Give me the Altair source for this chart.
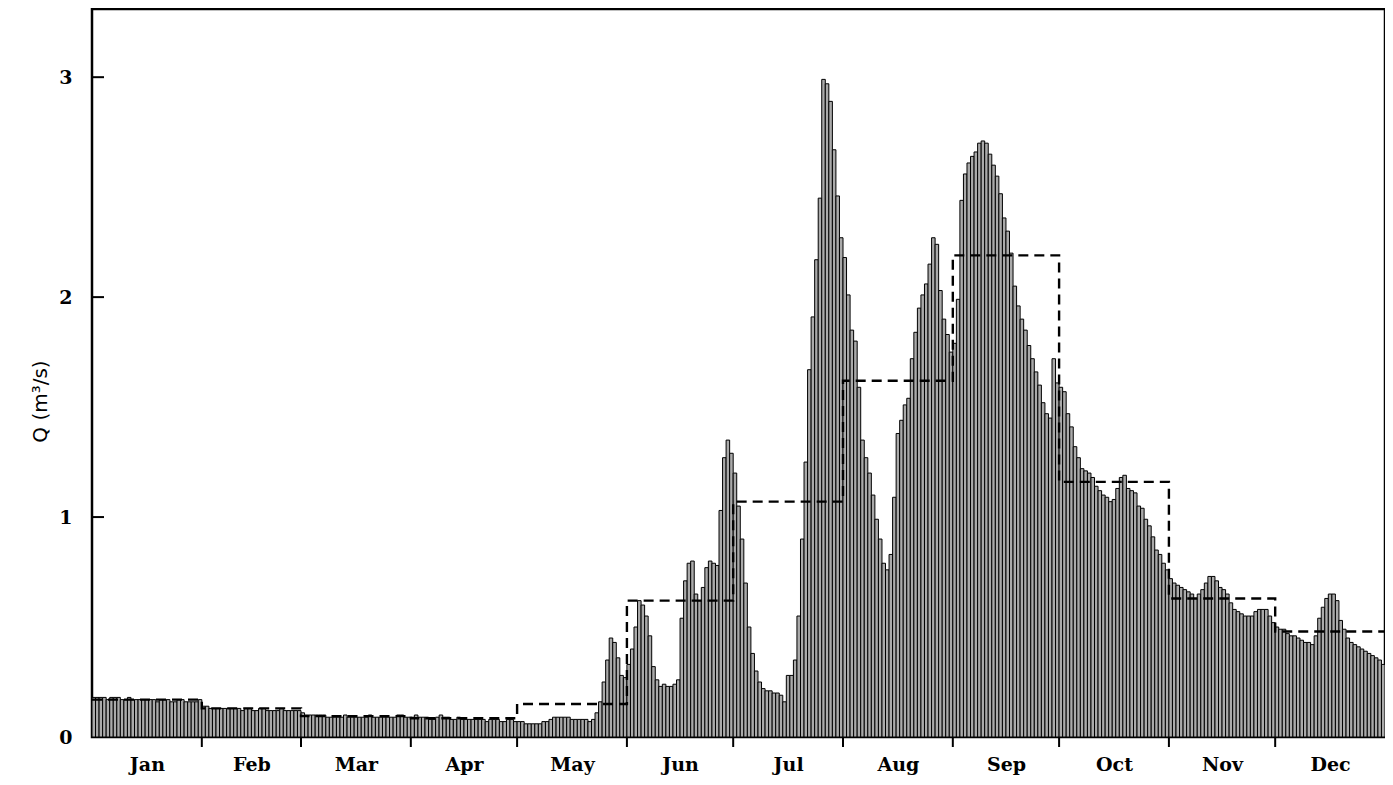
import altair as alt
import pandas as pd

months = ["Jan", "Feb", "Mar", "Apr", "May", "Jun", "Jul", "Aug", "Sep", "Oct", "Nov", "Dec"]
month_days = [31, 28, 31, 30, 31, 30, 31, 31, 30, 31, 30, 31]
monthly_mean = [0.17, 0.13, 0.095, 0.085, 0.15, 0.62, 1.07, 1.62, 2.19, 1.16, 0.63, 0.48]
y_ticks = [0, 1, 2, 3]

jan = [0.18, 0.18, 0.18, 0.18, 0.17, 0.18, 0.18, 0.18, 0.17, 0.17,
       0.18, 0.17, 0.17, 0.17, 0.17, 0.17, 0.17, 0.17, 0.16, 0.17,
       0.17, 0.17, 0.16, 0.16, 0.17, 0.17, 0.16, 0.16, 0.16, 0.16, 0.17]
feb = [0.14, 0.14, 0.13, 0.13, 0.13, 0.13, 0.13, 0.13, 0.13, 0.13,
       0.13, 0.12, 0.13, 0.13, 0.12, 0.12, 0.13, 0.13, 0.12, 0.12,
       0.12, 0.12, 0.13, 0.12, 0.12, 0.12, 0.12, 0.12]
mar = [0.11, 0.10, 0.10, 0.10, 0.10, 0.10, 0.10, 0.09, 0.09, 0.09,
       0.09, 0.09, 0.10, 0.09, 0.09, 0.09, 0.09, 0.09, 0.09, 0.10,
       0.09, 0.09, 0.09, 0.09, 0.09, 0.09, 0.09, 0.10, 0.10, 0.09, 0.09]
apr = [0.09, 0.10, 0.09, 0.09, 0.09, 0.08, 0.08, 0.09, 0.10, 0.09,
       0.09, 0.08, 0.08, 0.09, 0.08, 0.08, 0.08, 0.08, 0.08, 0.08,
       0.08, 0.07, 0.08, 0.08, 0.08, 0.07, 0.07, 0.08, 0.08, 0.07]
may = [0.07, 0.07, 0.06, 0.06, 0.06, 0.06, 0.06, 0.07, 0.07, 0.08,
       0.09, 0.09, 0.09, 0.09, 0.09, 0.08, 0.08, 0.08, 0.08, 0.08,
       0.07, 0.08, 0.11, 0.16, 0.25, 0.35, 0.45, 0.43, 0.36, 0.28, 0.27]
jun = [0.33, 0.40, 0.50, 0.62, 0.60, 0.55, 0.46, 0.32, 0.26, 0.23,
       0.24, 0.23, 0.23, 0.24, 0.26, 0.54, 0.71, 0.79, 0.80, 0.65,
       0.62, 0.68, 0.77, 0.80, 0.79, 0.78, 1.03, 1.27, 1.35, 1.29]
jul = [1.20, 1.05, 0.90, 0.70, 0.50, 0.38, 0.30, 0.25, 0.22, 0.21,
       0.21, 0.20, 0.20, 0.19, 0.16, 0.28, 0.28, 0.35, 0.55, 0.90,
       1.25, 1.67, 1.91, 2.17, 2.45, 2.99, 2.97, 2.89, 2.67, 2.46, 2.27]
aug = [2.18, 2.01, 1.85, 1.80, 1.59, 1.35, 1.27, 1.20, 1.10, 0.99,
       0.90, 0.79, 0.76, 0.83, 1.09, 1.38, 1.44, 1.51, 1.54, 1.72,
       1.84, 1.95, 2.01, 2.06, 2.15, 2.27, 2.24, 2.03, 1.90, 1.83, 1.75]
sep = [1.79, 1.99, 2.44, 2.56, 2.61, 2.64, 2.66, 2.70, 2.71, 2.70,
       2.65, 2.60, 2.55, 2.47, 2.36, 2.30, 2.20, 2.05, 1.96, 1.90,
       1.85, 1.78, 1.72, 1.66, 1.60, 1.52, 1.47, 1.45, 1.72, 1.61]
oct_ = [1.59, 1.57, 1.47, 1.41, 1.32, 1.27, 1.22, 1.21, 1.20, 1.18,
        1.14, 1.12, 1.10, 1.09, 1.07, 1.08, 1.13, 1.18, 1.19, 1.13,
        1.12, 1.11, 1.05, 1.04, 0.99, 0.96, 0.91, 0.85, 0.83, 0.79, 0.76]
nov = [0.72, 0.70, 0.69, 0.68, 0.67, 0.66, 0.65, 0.63, 0.65, 0.67,
       0.70, 0.73, 0.73, 0.71, 0.68, 0.67, 0.65, 0.61, 0.58, 0.57,
       0.56, 0.55, 0.55, 0.55, 0.57, 0.58, 0.58, 0.58, 0.55, 0.52]
dec = [0.50, 0.49, 0.49, 0.47, 0.46, 0.46, 0.45, 0.44, 0.43, 0.43,
       0.42, 0.46, 0.54, 0.59, 0.63, 0.65, 0.65, 0.62, 0.53, 0.49,
       0.45, 0.43, 0.42, 0.41, 0.40, 0.39, 0.38, 0.37, 0.36, 0.35, 0.33]

daily = jan + feb + mar + apr + may + jun + jul + aug + sep + oct_ + nov + dec

# month boundaries (day of year where each month starts)
starts = []
acc = 0
for n in month_days:
    starts.append(acc)
    acc += n
year_len = acc
mids = [s + n / 2 for s, n in zip(starts, month_days)]

bars_df = pd.DataFrame({
    "start": list(range(len(daily))),
    "end": [i + 1 for i in range(len(daily))],
    "q": daily,
})
step_df = pd.DataFrame({
    "start": starts + [year_len],
    "q": monthly_mean + [monthly_mean[-1]],
})
xtick_df = pd.DataFrame({"start": starts[1:]})
ytick_df = pd.DataFrame({"q": [v for v in y_ticks if v > 0]})

# label expression: month name for the mid-month tick values
expr = "'" + months[-1] + "'"
for s, n, m in reversed(list(zip(starts, month_days, months))[:-1]):
    expr = f"datum.value < {s + n} ? '{m}' : ({expr})"

W, H = 1293, 728
xscale = alt.Scale(domain=[0, year_len], nice=False, zero=False)
yscale = alt.Scale(domain=[0, 3.31], nice=False)

serif = "DejaVu Serif"

xaxis = alt.Axis(
    values=mids, labelExpr=expr, ticks=False, domain=False, grid=False,
    title=None, labelFont=serif, labelFontWeight="bold", labelFontSize=19,
    labelColor="black", labelPadding=33, labelBaseline="alphabetic",
    labelAngle=0)
yaxis = alt.Axis(
    values=y_ticks, ticks=False, domain=False, grid=False,
    labelFont=serif, labelFontWeight="bold", labelFontSize=19,
    labelColor="black", labelPadding=20,
    title="Q (m³/s)", titleFont="DejaVu Sans", titleFontWeight="normal",
    titleFontSize=20, titleColor="black", titleX=-52, titleY=392,
    titleBaseline="middle")

bars = alt.Chart(bars_df).mark_bar(
    fill="#aaaaaa", stroke="black", strokeWidth=1.0
).encode(
    x=alt.X("start:Q", scale=xscale, axis=xaxis),
    x2="end:Q",
    y=alt.Y("q:Q", scale=yscale, axis=yaxis),
    y2=alt.datum(0),
)

step = alt.Chart(step_df).mark_line(
    interpolate="step-after", strokeDash=[10, 6], strokeWidth=2.4, color="black"
).encode(
    x=alt.X("start:Q", scale=xscale, axis=xaxis),
    y=alt.Y("q:Q", scale=yscale, axis=yaxis),
)

xticks = alt.Chart(xtick_df).mark_rule(color="black", strokeWidth=2).encode(
    x=alt.X("start:Q", scale=xscale, axis=xaxis),
    y=alt.value(H),
    y2=alt.value(H + 10),
)

yticks = alt.Chart(ytick_df).mark_rule(color="black", strokeWidth=2).encode(
    y=alt.Y("q:Q", scale=yscale, axis=yaxis),
    x=alt.value(0),
    x2=alt.value(12),
)

chart = alt.layer(bars, step, xticks, yticks).properties(
    width=W, height=H,
    autosize=alt.AutoSizeParams(type="none"),
    padding={"left": 84, "top": 1, "right": 0, "bottom": 40},
).configure_view(stroke="black", strokeWidth=2.5)

chart.save("out.html", embed_options={"renderer": "svg", "actions": False})
